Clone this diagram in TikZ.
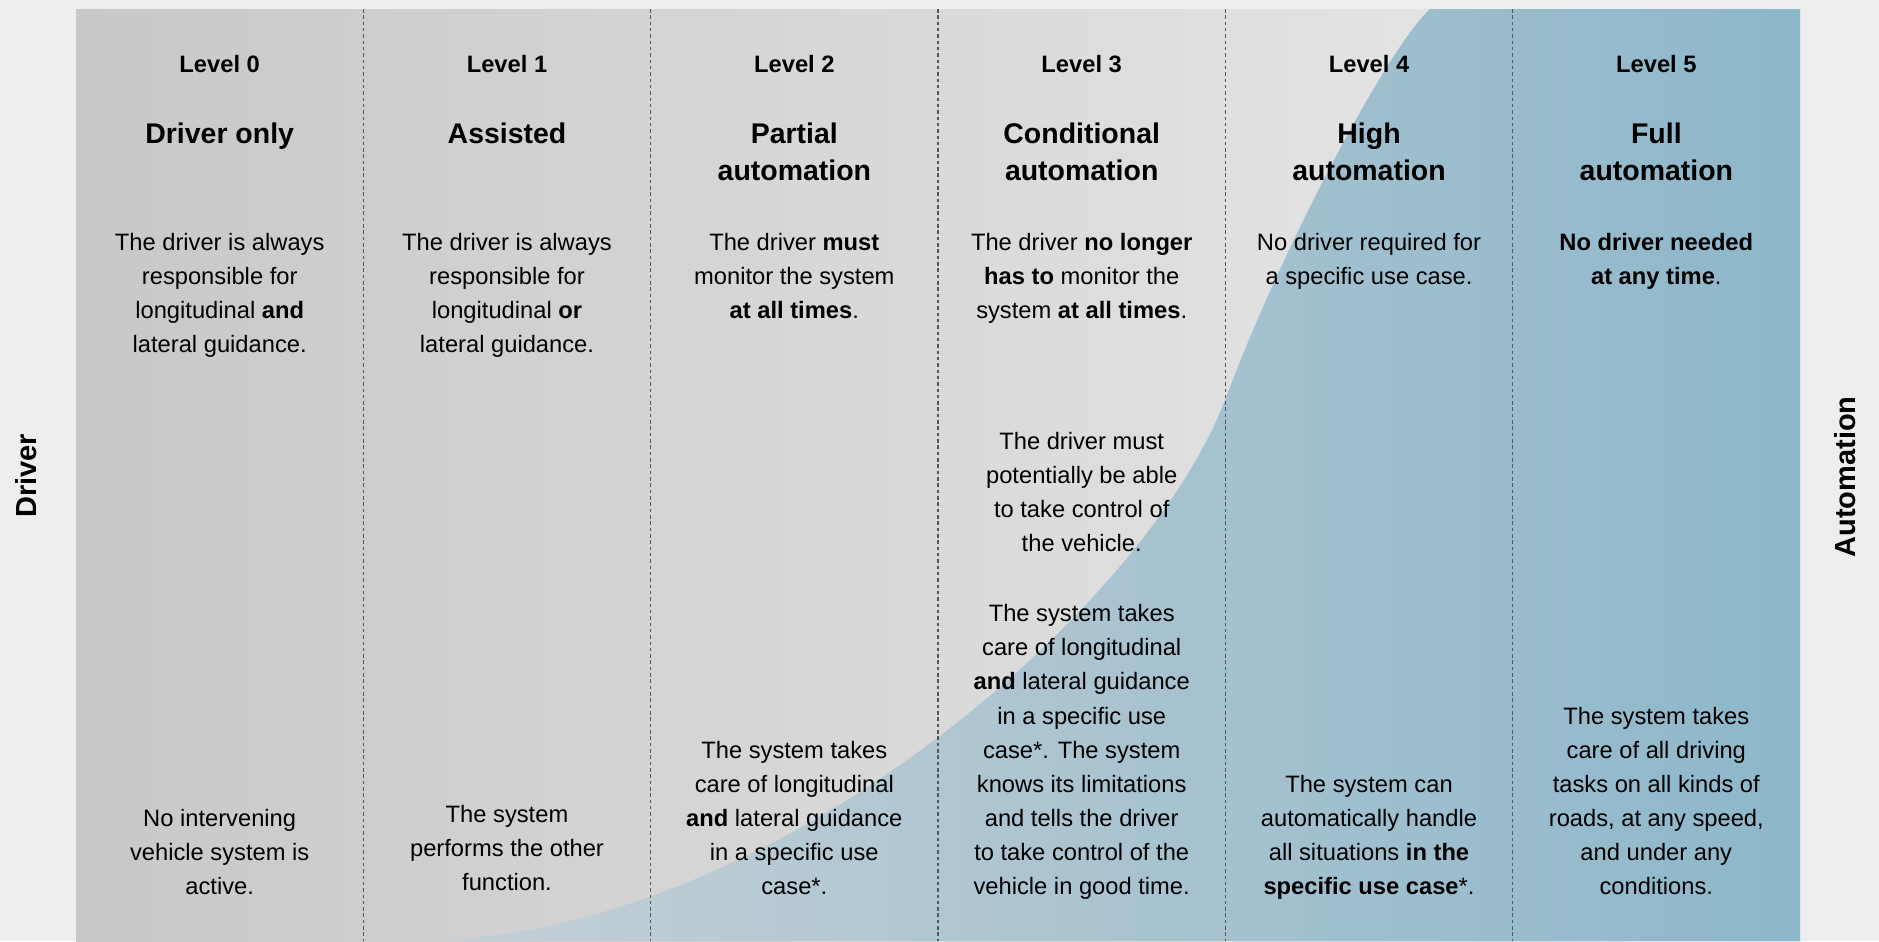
\documentclass[tikz,border=0pt]{standalone}
\usepackage{fontspec}
\setmainfont{Liberation Sans}
\usepackage{xcolor}

\definecolor{bgout}{HTML}{EEEEEE}
\definecolor{greyL}{HTML}{C8C8C8}
\definecolor{greyR}{HTML}{EBEBEB}
\definecolor{blueL}{HTML}{C6D0D6}
\definecolor{blueR}{HTML}{8DB7CA}
\definecolor{divcol}{HTML}{555555}

\begin{document}
\begin{tikzpicture}[x=0.02cm, y=-0.02cm,
	divider/.style={divcol, line width=0.6pt, dash pattern=on 2pt off 1.6pt},
	levellbl/.style={font=\fontsize{13.5}{16}\selectfont\bfseries, anchor=north, inner sep=0pt},
	titlelbl/.style={font=\fontsize{16.2}{21}\selectfont\bfseries, align=center, anchor=north, inner sep=0pt},
	desc/.style={font=\fontsize{13.5}{19.4}\selectfont, align=center, inner sep=0pt},
	sidelbl/.style={font=\fontsize{16.5}{20}\selectfont\bfseries, rotate=90, inner sep=0pt}]
			% Background and frame
			\fill[bgout] (0,0) rectangle (1879,941);
			\useasboundingbox (0,0) rectangle (1879,941);
			\shade[left color=greyL, right color=greyR] (76,9) rectangle (1800,941);
			
			% Automation area
			\shade[left color=blueL, right color=blueR] (418,941)
				.. controls (770,938) and (1145,610) .. (1225,400)
				.. controls (1285,240) and (1390,45) .. (1430,9)
				-- (1800,9) -- (1800,941) -- cycle;
			
			% Column dividers
			\foreach \i in {1,...,5}
				\draw[divider] ({76+287.33*\i},9) -- ({76+287.33*\i},941);
			
			% Side labels
			\node[sidelbl] (driver) at (26,476) {Driver};
			\node[sidelbl] (automation) at (1845,477) {Automation};
			
			% Level numbers
			\foreach \i in {0,...,5}
				\node[levellbl] (lvl\i) at ({219.7+287.33*\i},55) {Level \i};
			
			% Level names
			\foreach \i/\t in {0/{Driver only}, 1/{Assisted}, 2/{Partial\\automation},
				3/{Conditional\\automation}, 4/{High\\automation}, 5/{Full\\automation}}
				\node[titlelbl] (name\i) at ({219.7+287.33*\i},123) {\t};
			
			% Driver tasks
			\node[desc, anchor=north] (top0) at (219.7,233) {The driver is always\\responsible for\\longitudinal \textbf{and}\\lateral guidance.};
			\node[desc, anchor=north] (top1) at (507.0,233) {The driver is always\\responsible for\\longitudinal \textbf{or}\\lateral guidance.};
			\node[desc, anchor=north] (top2) at (794.3,233) {The driver \textbf{must}\\monitor the system\\\textbf{at all times}.};
			\node[desc, anchor=north] (top3) at (1081.7,233) {The driver \textbf{no longer}\\\textbf{has to} monitor the\\system \textbf{at all times}.};
			\node[desc, anchor=north] (top4) at (1369.0,233) {No driver required for\\a specific use case.};
			\node[desc, anchor=north] (top5) at (1656.3,233) {\textbf{No driver needed}\\\textbf{at any time}.};
			\node[desc, anchor=south] (mid3) at (1081.7,562) {The driver must\\potentially be able\\to take control of\\the vehicle.\strut};
			
			% System tasks
			\node[desc, anchor=south] (bot0) at (219.7,905) {No intervening\\vehicle system is\\active.\strut};
			\node[desc, anchor=south] (bot1) at (507.0,901) {The system\\performs the other\\function.\strut};
			\node[desc, anchor=south] (bot2) at (794.3,905) {The system takes\\care of longitudinal\\\textbf{and} lateral guidance\\in a specific use\\case*.\strut};
			\node[desc, anchor=south] (bot3) at (1081.7,905) {The system takes\\care of longitudinal\\\textbf{and} lateral guidance\\in a specific use\\case*. The system\\knows its limitations\\and tells the driver\\to take control of the\\vehicle in good time.\strut};
			\node[desc, anchor=south] (bot4) at (1369.0,905) {The system can\\automatically handle\\all situations \textbf{in the}\\\textbf{specific use case}*.\strut};
			\node[desc, anchor=south] (bot5) at (1656.3,905) {The system takes\\care of all driving\\tasks on all kinds of\\roads, at any speed,\\and under any\\conditions.\strut};
			
		\end{tikzpicture}
\end{document}
